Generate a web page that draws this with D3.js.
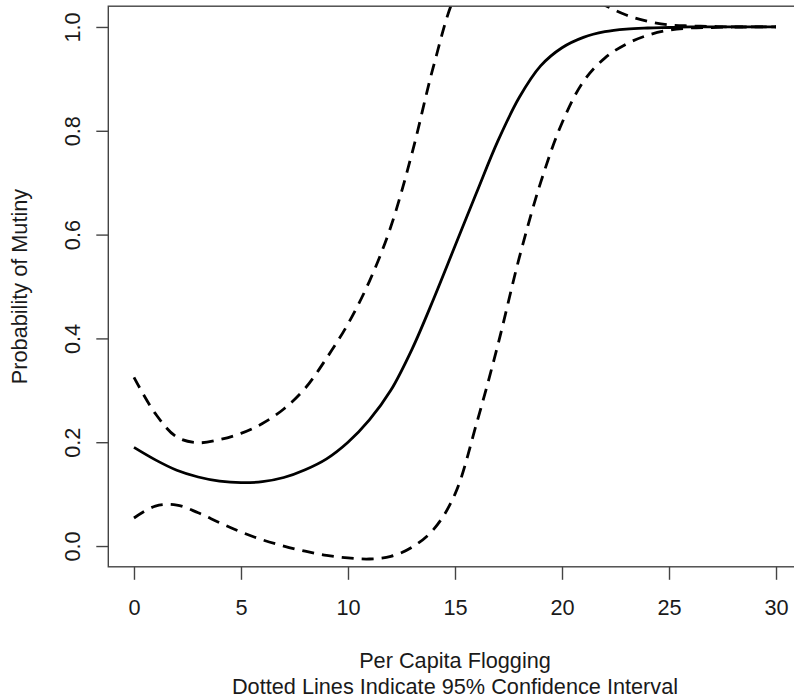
<!DOCTYPE html>
<html>
<head>
<meta charset="utf-8">
<script src="https://cdn.jsdelivr.net/npm/d3@7"></script>
<style>
  body { margin: 0; background: #fff; }
  text { font-family: "Liberation Sans", Arial, sans-serif; fill: #1a1a1a; }
</style>
</head>
<body>
<div id="chart"></div>
<script>
var flogging = [0, 1, 2, 3, 4, 5, 6, 7, 8, 9, 10, 11, 12, 13, 14, 15,
                16, 17, 18, 19, 20, 21, 22, 23, 24, 25, 26, 27, 28, 29, 30]
var prob_mutiny = [0.190, 0.166, 0.146, 0.133, 0.125, 0.122, 0.124, 0.132, 0.147, 0.168,
                   0.200, 0.243, 0.300, 0.380, 0.476, 0.578, 0.680, 0.780, 0.864, 0.925,
                   0.960, 0.980, 0.991, 0.996, 0.998, 0.999, 1.000, 1.000, 1.000, 1.000, 1.000]
var lower_ci = [0.054, 0.077, 0.079, 0.064, 0.045, 0.027, 0.012, 0.000, -0.010, -0.018,
                -0.023, -0.025, -0.020, -0.002, 0.032, 0.100, 0.235, 0.387, 0.555, 0.700,
                0.815, 0.895, 0.940, 0.967, 0.984, 0.994, 0.998, 0.999, 1.000, 1.000, 1.000]
var upper_ci = [0.325, 0.255, 0.210, 0.199, 0.205, 0.217, 0.236, 0.264, 0.304, 0.362,
                0.428, 0.510, 0.615, 0.758, 0.925, 1.060, 1.125, 1.170, 1.170, 1.148,
                1.102, 1.065, 1.042, 1.023, 1.011, 1.004, 1.002, 1.001, 1.000, 1.000, 1.000]
var x_ticks = [0, 5, 10, 15, 20, 25, 30]
var y_ticks = [0.0, 0.2, 0.4, 0.6, 0.8, 1.0]

var width = 794,
    height = 698,
    font_size = 21.7

var x = d3.scaleLinear()
    .domain([-1.2, 31.2])
    .range([108.3, 801.7])
var y = d3.scaleLinear()
    .domain([-0.04, 1.04])
    .range([566.8, 6.2])

var svg = d3.select("#chart").append("svg")
    .attr("width", width)
    .attr("height", height)

svg.append("clipPath")
    .attr("id", "plot_area")
  .append("rect")
    .attr("x", x.range()[0])
    .attr("y", y.range()[1])
    .attr("width", x.range()[1] - x.range()[0])
    .attr("height", y.range()[0] - y.range()[1])

function make_line(values) {
  return d3.line()
      .x(function(d, i) { return x(flogging[i]) })
      .y(function(d) { return y(d) })
      .curve(d3.curveCatmullRom)(values)
}

var curves = svg.append("g")
    .attr("clip-path", "url(#plot_area)")

curves.append("path")
    .attr("d", make_line(prob_mutiny))
    .attr("fill", "none")
    .attr("stroke", "#000")
    .attr("stroke-width", 2.8)

;[lower_ci, upper_ci].forEach(function(series) {
  curves.append("path")
      .attr("d", make_line(series))
      .attr("fill", "none")
      .attr("stroke", "#000")
      .attr("stroke-width", 2.8)
      .attr("stroke-dasharray", "12,8")
})

// plot frame
svg.append("rect")
    .attr("x", x.range()[0])
    .attr("y", y.range()[1])
    .attr("width", x.range()[1] - x.range()[0])
    .attr("height", y.range()[0] - y.range()[1])
    .attr("fill", "none")
    .attr("stroke", "#444")
    .attr("stroke-width", 1.4)

var x_axis = svg.append("g")
    .attr("transform", "translate(0," + y.range()[0] + ")")
    .call(d3.axisBottom(x).tickValues(x_ticks).tickSize(13).tickSizeOuter(0))
x_axis.select(".domain").remove()
x_axis.selectAll("line").attr("stroke", "#444").attr("stroke-width", 1.4)
x_axis.selectAll("text")
    .attr("y", 0)
    .attr("dy", 0)
    .attr("transform", "translate(0,48)")
    .style("font-size", font_size + "px")
    .style("font-family", "Liberation Sans, Arial, sans-serif")
    .attr("fill", "#1a1a1a")

var y_axis = svg.append("g")
    .attr("transform", "translate(" + x.range()[0] + ",0)")
    .call(d3.axisLeft(y).tickValues(y_ticks).tickSize(12).tickSizeOuter(0).tickFormat(d3.format(".1f")))
y_axis.select(".domain").remove()
y_axis.selectAll("line").attr("stroke", "#444").attr("stroke-width", 1.4)
y_axis.selectAll("text")
    .attr("x", 0)
    .attr("dy", 0)
    .attr("text-anchor", "middle")
    .attr("transform", "translate(-28,0) rotate(-90)")
    .style("font-size", font_size + "px")
    .style("font-family", "Liberation Sans, Arial, sans-serif")
    .attr("fill", "#1a1a1a")

svg.append("text")
    .attr("x", x(15))
    .attr("y", 668)
    .attr("text-anchor", "middle")
    .style("font-size", font_size + "px")
    .text("Per Capita Flogging")

svg.append("text")
    .attr("x", x(15))
    .attr("y", 694)
    .attr("text-anchor", "middle")
    .style("font-size", font_size + "px")
    .text("Dotted Lines Indicate 95% Confidence Interval")

svg.append("text")
    .attr("transform", "translate(27," + ((y.range()[0] + y.range()[1]) / 2) + ") rotate(-90)")
    .attr("text-anchor", "middle")
    .style("font-size", font_size + "px")
    .text("Probability of Mutiny")
</script>
</body>
</html>
